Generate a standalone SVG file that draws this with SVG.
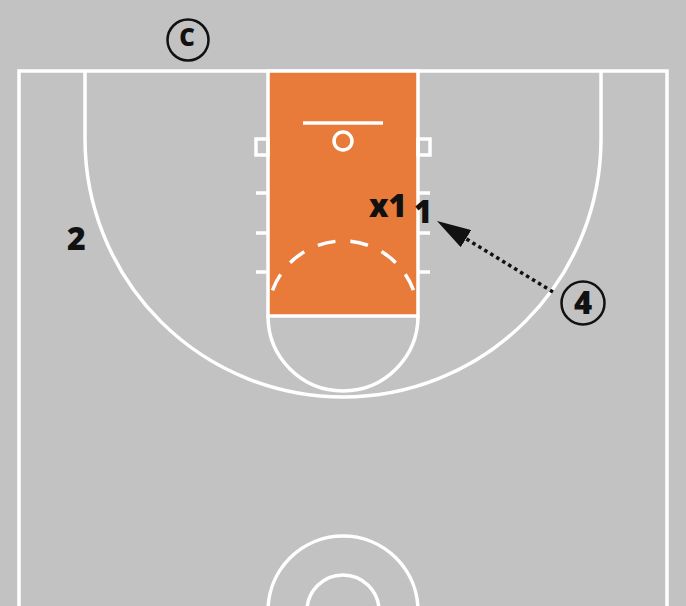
<svg xmlns="http://www.w3.org/2000/svg" width="686" height="606" viewBox="0 0 686 606">
<defs>
<style>
.ln{fill:none;stroke:#ffffff;stroke-width:3.5}
.lbl{font-family:"Open Sans","Liberation Sans",sans-serif;font-weight:800;fill:#111111}
.ring{fill:none;stroke:#111111;stroke-width:2.5}
.conn{fill:none;stroke:#111111;stroke-width:3.5;stroke-dasharray:3.5 3.5}
</style>
<marker id="head" viewBox="0 0 34 20" refX="0" refY="10" markerWidth="34" markerHeight="20" markerUnits="userSpaceOnUse" orient="auto">
<path d="M0,0 L34,10 L0,20 Z" fill="#111111"/>
</marker>
</defs>
<rect width="686" height="606" fill="#c2c2c2"/>
<g id="court">
<path class="ln" d="M19,612 V71 H667 V612"/>
<path class="ln" d="M85,71 V139 A258,258 0 0 0 601,139 V71"/>
<rect x="268" y="71" width="150" height="245" fill="#e87b3a" stroke="#ffffff" stroke-width="3.5"/>
<path class="ln" d="M268,316 A75,75 0 0 0 418,316"/>
<path class="ln" d="M272.5,290.4 A75,75 0 0 1 413.5,290.4" stroke-dasharray="18 15"/>
<line class="ln" x1="303" y1="123" x2="383" y2="123"/>
<circle class="ln" cx="343" cy="141" r="9"/>
<rect class="ln" x="256" y="139" width="12" height="16"/>
<rect class="ln" x="418" y="139" width="12" height="16"/>
<path class="ln" d="M256,193 H268 M256,233 H268 M256,272 H268 M418,193 H430 M418,233 H430 M418,272 H430"/>
<circle class="ln" cx="343" cy="611" r="75"/>
<circle class="ln" cx="343" cy="611" r="36"/>
</g>
<g id="connectors">
<line class="conn" x1="553" y1="292" x2="466" y2="238.7" marker-end="url(#head)"/>
</g>
<g id="coach">
<circle class="ring" cx="188" cy="40" r="20.5"/>
<text class="lbl" x="187" y="46" font-size="24" text-anchor="middle">C</text>
</g>
<g id="player4">
<circle class="ring" cx="583" cy="303" r="21.5"/>
<text class="lbl" x="583" y="314" font-size="31" text-anchor="middle">4</text>
</g>
<g id="defender-x1">
<text class="lbl" x="369" y="217" font-size="31">x1</text>
</g>
<g id="player1">
<text class="lbl" x="414" y="223" font-size="31">1</text>
</g>
<g id="player2">
<text class="lbl" x="67" y="250" font-size="32">2</text>
</g>
</svg>
